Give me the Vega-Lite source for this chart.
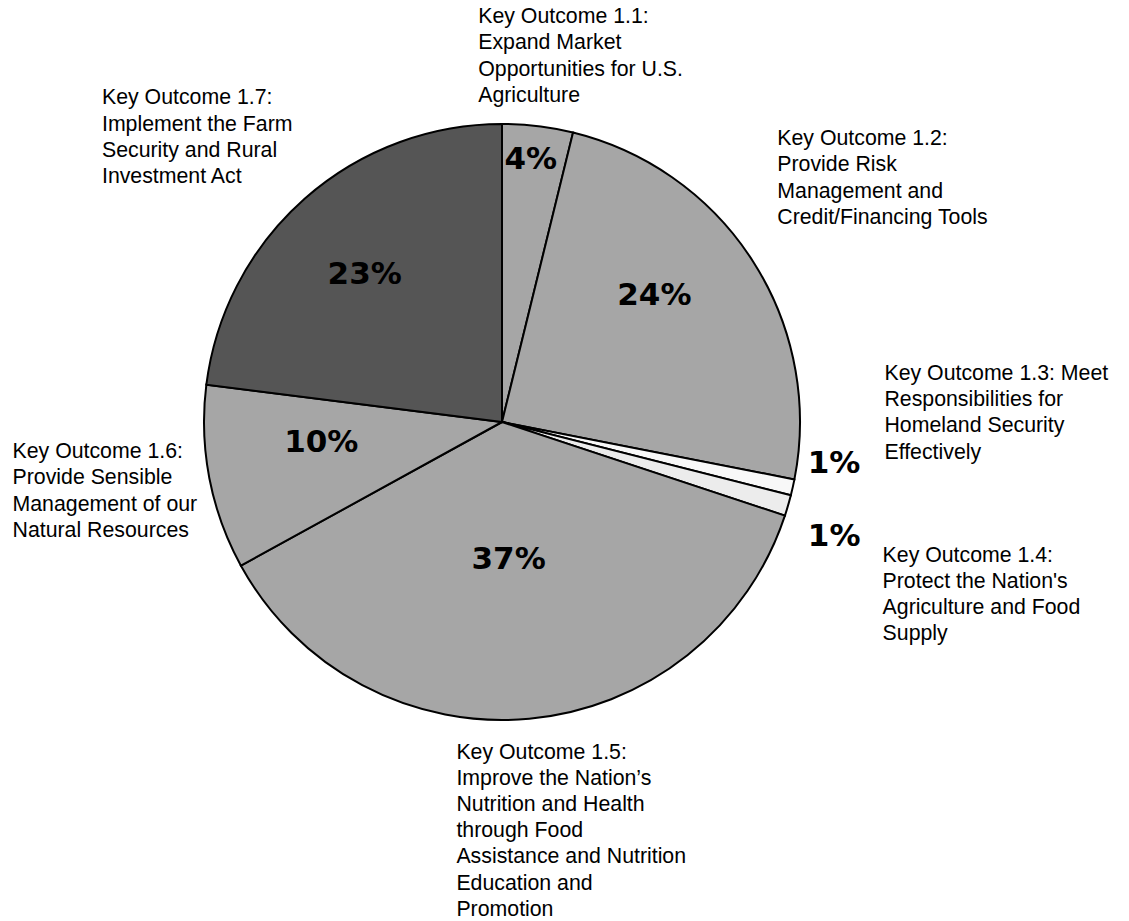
{
  "$schema": "https://vega.github.io/schema/vega-lite/v6.json",
  "width": 1004,
  "height": 844,
  "autosize": {"type": "none"},
  "padding": {"left": 0, "top": 0, "right": 125, "bottom": 77},
  "background": "white",
  "view": {"stroke": null},
  "data": {
    "values": [
      {"key": "1.1", "value": 3.83, "pct": "4%", "label": "Key Outcome 1.1:\nExpand Market\nOpportunities for U.S.\nAgriculture"},
      {"key": "1.2", "value": 24.25, "pct": "24%", "label": "Key Outcome 1.2:\nProvide Risk\nManagement and\nCredit/Financing Tools"},
      {"key": "1.3", "value": 0.87, "pct": "1%", "label": "Key Outcome 1.3: Meet\nResponsibilities for\nHomeland Security\nEffectively"},
      {"key": "1.4", "value": 1.13, "pct": "1%", "label": "Key Outcome 1.4:\nProtect the Nation's\nAgriculture and Food\nSupply"},
      {"key": "1.5", "value": 36.9, "pct": "37%", "label": "Key Outcome 1.5:\nImprove the Nation’s\nNutrition and Health\nthrough Food\nAssistance and Nutrition\nEducation and\nPromotion"},
      {"key": "1.6", "value": 10.0, "pct": "10%", "label": "Key Outcome 1.6:\nProvide Sensible\nManagement of our\nNatural Resources"},
      {"key": "1.7", "value": 23.0, "pct": "23%", "label": "Key Outcome 1.7:\nImplement the Farm\nSecurity and Rural\nInvestment Act"}
    ]
  },
  "encoding": {
    "theta": {"field": "value", "type": "quantitative", "stack": true},
    "order": {"field": "key", "sort": "ascending"}
  },
  "layer": [
    {
      "mark": {"type": "arc", "outerRadius": 298, "stroke": "black", "strokeWidth": 2},
      "encoding": {
        "color": {
          "field": "key", "type": "nominal", "legend": null,
          "scale": {"domain": ["1.1", "1.2", "1.3", "1.4", "1.5", "1.6", "1.7"],
                    "range": ["#a6a6a6", "#a6a6a6", "#f8f8f8", "#ececec", "#a6a6a6", "#a6a6a6", "#555555"]}
        }
      }
    },
    {"mark": {"type": "text", "radius": 264, "dx": -3, "dy": 0, "font": "DejaVu Sans", "fontWeight": "bold", "fontSize": 31, "align": "center", "baseline": "middle", "color": "black"},
     "encoding": {"text": {"condition": {"test": "datum.key === '1.1'", "field": "pct", "type": "nominal"}, "value": ""}}},
    {"mark": {"type": "text", "radius": 195, "dx": -12, "dy": -21, "font": "DejaVu Sans", "fontWeight": "bold", "fontSize": 31, "align": "center", "baseline": "middle", "color": "black"},
     "encoding": {"text": {"condition": {"test": "datum.key === '1.2'", "field": "pct", "type": "nominal"}, "value": ""}}},
    {"mark": {"type": "text", "radius": 330, "dx": 10, "dy": -30, "font": "DejaVu Sans", "fontWeight": "bold", "fontSize": 31, "align": "center", "baseline": "middle", "color": "black"},
     "encoding": {"text": {"condition": {"test": "datum.key === '1.3'", "field": "pct", "type": "nominal"}, "value": ""}}},
    {"mark": {"type": "text", "radius": 345, "dx": 1, "dy": 18, "font": "DejaVu Sans", "fontWeight": "bold", "fontSize": 31, "align": "center", "baseline": "middle", "color": "black"},
     "encoding": {"text": {"condition": {"test": "datum.key === '1.4'", "field": "pct", "type": "nominal"}, "value": ""}}},
    {"mark": {"type": "text", "radius": 138, "dx": -6, "dy": 1, "font": "DejaVu Sans", "fontWeight": "bold", "fontSize": 31, "align": "center", "baseline": "middle", "color": "black"},
     "encoding": {"text": {"condition": {"test": "datum.key === '1.5'", "field": "pct", "type": "nominal"}, "value": ""}}},
    {"mark": {"type": "text", "radius": 182, "dx": -2, "dy": -13, "font": "DejaVu Sans", "fontWeight": "bold", "fontSize": 31, "align": "center", "baseline": "middle", "color": "black"},
     "encoding": {"text": {"condition": {"test": "datum.key === '1.6'", "field": "pct", "type": "nominal"}, "value": ""}}},
    {"mark": {"type": "text", "radius": 200, "dx": -5, "dy": 3, "font": "DejaVu Sans", "fontWeight": "bold", "fontSize": 31, "align": "center", "baseline": "middle", "color": "black"},
     "encoding": {"text": {"condition": {"test": "datum.key === '1.7'", "field": "pct", "type": "nominal"}, "value": ""}}},
    {"mark": {"type": "text", "radius": 310, "dx": -61, "dy": -91, "font": "Liberation Sans", "fontSize": 21.3, "lineHeight": 26.2, "lineBreak": "\n", "align": "left", "baseline": "alphabetic", "color": "black"},
     "encoding": {"text": {"condition": {"test": "datum.key === '1.1'", "field": "label", "type": "nominal"}, "value": ""}}},
    {"mark": {"type": "text", "radius": 310, "dx": 14, "dy": -110, "font": "Liberation Sans", "fontSize": 21.3, "lineHeight": 26.2, "lineBreak": "\n", "align": "left", "baseline": "alphabetic", "color": "black"},
     "encoding": {"text": {"condition": {"test": "datum.key === '1.2'", "field": "label", "type": "nominal"}, "value": ""}}},
    {"mark": {"type": "text", "radius": 310, "dx": 80, "dy": -110, "font": "Liberation Sans", "fontSize": 21.3, "lineHeight": 26.2, "lineBreak": "\n", "align": "left", "baseline": "alphabetic", "color": "black"},
     "encoding": {"text": {"condition": {"test": "datum.key === '1.3'", "field": "label", "type": "nominal"}, "value": ""}}},
    {"mark": {"type": "text", "radius": 310, "dx": 83, "dy": 53, "font": "Liberation Sans", "fontSize": 21.3, "lineHeight": 26.2, "lineBreak": "\n", "align": "left", "baseline": "alphabetic", "color": "black"},
     "encoding": {"text": {"condition": {"test": "datum.key === '1.4'", "field": "label", "type": "nominal"}, "value": ""}}},
    {"mark": {"type": "text", "radius": 310, "dx": -74, "dy": 28, "font": "Liberation Sans", "fontSize": 21.3, "lineHeight": 26.2, "lineBreak": "\n", "align": "left", "baseline": "alphabetic", "color": "black"},
     "encoding": {"text": {"condition": {"test": "datum.key === '1.5'", "field": "label", "type": "nominal"}, "value": ""}}},
    {"mark": {"type": "text", "radius": 310, "dx": -185, "dy": -22, "font": "Liberation Sans", "fontSize": 21.3, "lineHeight": 26.2, "lineBreak": "\n", "align": "left", "baseline": "alphabetic", "color": "black"},
     "encoding": {"text": {"condition": {"test": "datum.key === '1.6'", "field": "label", "type": "nominal"}, "value": ""}}},
    {"mark": {"type": "text", "radius": 310, "dx": -195, "dy": -85, "font": "Liberation Sans", "fontSize": 21.3, "lineHeight": 26.2, "lineBreak": "\n", "align": "left", "baseline": "alphabetic", "color": "black"},
     "encoding": {"text": {"condition": {"test": "datum.key === '1.7'", "field": "label", "type": "nominal"}, "value": ""}}}
  ]
}
